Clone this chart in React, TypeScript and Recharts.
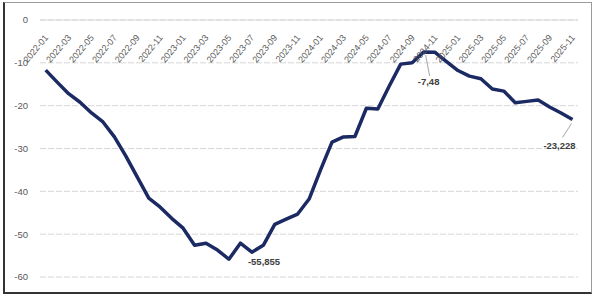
import React from "react";
import { LineChart, Line, XAxis, YAxis, CartesianGrid, LabelList, ReferenceLine } from "recharts";

const months: string[] = [
  "2022-01","2022-02","2022-03","2022-04","2022-05","2022-06","2022-07","2022-08","2022-09","2022-10","2022-11","2022-12",
  "2023-01","2023-02","2023-03","2023-04","2023-05","2023-06","2023-07","2023-08","2023-09","2023-10","2023-11","2023-12",
  "2024-01","2024-02","2024-03","2024-04","2024-05","2024-06","2024-07","2024-08","2024-09","2024-10","2024-11","2024-12",
  "2025-01","2025-02","2025-03","2025-04","2025-05","2025-06","2025-07","2025-08","2025-09","2025-10","2025-11",
];

const values: number[] = [
  -11.7, -14.5, -17.2, -19.2, -21.7, -23.8, -27.3, -31.8, -36.7, -41.6, -43.7, -46.3,
  -48.6, -52.6, -52.1, -53.7, -55.855, -52.1, -54.2, -52.6, -47.7, -46.5, -45.3, -41.8,
  -35.0, -28.5, -27.3, -27.2, -20.6, -20.8, -15.4, -10.3, -10.0, -7.48, -7.55, -9.7,
  -11.8, -13.1, -13.7, -16.1, -16.6, -19.3, -19.0, -18.7, -20.3, -21.7, -23.228,
];

const yTicks: number[] = [0, -10, -20, -30, -40, -50, -60];

const annotatedIdx: number[] = [16, 33, 46];
const annotatedText: string[] = ["-55,855", "-7,48", "-23,228"];

const data = months.map((m, i) => ({ month: m, v: values[i] }));

const FONT = "'Liberation Sans', Arial, sans-serif";

const TopTick = (props: any) => {
  const { x, y, payload } = props;
  const ax = x + 3;
  const ay = y + 18;
  return (
    <text
      x={ax}
      y={ay}
      transform={`rotate(-50, ${ax}, ${ay})`}
      textAnchor="end"
      fontSize={9}
      fontFamily={FONT}
      fill="#595959"
    >
      {payload.value}
    </text>
  );
};

const AnnLabel = (props: any) => {
  const { x, y, index } = props;
  const k = annotatedIdx.indexOf(index);
  if (k < 0) return null;
  const txt = annotatedText[k];
  const common = { fontSize: 9.5, fontFamily: FONT, fill: "#404040", fontWeight: 700 as const };
  if (k === 0) {
    return (
      <text x={x + 19} y={y + 6} {...common}>
        {txt}
      </text>
    );
  }
  if (k === 1) {
    return (
      <g>
        <line x1={x + 2} y1={y + 3} x2={x + 6} y2={y + 24} stroke="#a6a6a6" strokeWidth={1} />
        <text x={x + 5} y={y + 33} textAnchor="middle" {...common}>
          {txt}
        </text>
      </g>
    );
  }
  return (
    <g>
      <line x1={x - 1} y1={y + 4} x2={x - 10} y2={y + 18} stroke="#a6a6a6" strokeWidth={1} />
      <text x={x - 13} y={y + 30} textAnchor="middle" {...common}>
        {txt}
      </text>
    </g>
  );
};

export default function App() {
  return (
    <div style={{ position: "absolute", left: 0, top: 0, width: 595, height: 298, background: "#fff" }}>
      <div
        style={{
          position: "absolute",
          left: 3,
          top: 2,
          width: 589,
          height: 292,
          borderTop: "1px solid #9a9a9a",
          borderRight: "1px solid #9a9a9a",
          borderLeft: "2px solid #333",
          borderBottom: "2px solid #333",
          boxSizing: "border-box",
        }}
      />
      <div style={{ position: "absolute", left: 0, top: 0 }}>
        <LineChart
          width={595}
          height={298}
          data={data}
          margin={{ top: 10, right: 17, bottom: 21, left: 0 }}
        >
          <CartesianGrid vertical={false} stroke="#d6d6d6" strokeDasharray="6 2" />
          <ReferenceLine y={0} stroke="#d9d9d9" strokeWidth={1} />
          <XAxis
            dataKey="month"
            orientation="top"
            height={10}
            interval={1}
            padding={{ left: 5.7, right: 5.5 }}
            axisLine={false}
            tickLine={false}
            tickSize={0}
            tickMargin={0}
            tick={<TopTick />}
          />
          <YAxis
            domain={[-60, 0]}
            ticks={yTicks}
            interval={0}
            width={40}
            axisLine={false}
            tickLine={false}
            tickMargin={6}
            tick={{ fontSize: 9.5, fontFamily: FONT, fill: "#595959" }}
          />
          <Line
            type="linear"
            dataKey="v"
            stroke="#1b2a63"
            strokeWidth={3.5}
            dot={false}
            activeDot={false}
            isAnimationActive={false}
            strokeLinejoin="round"
          >
            <LabelList dataKey="v" content={<AnnLabel />} />
          </Line>
        </LineChart>
      </div>
    </div>
  );
}
